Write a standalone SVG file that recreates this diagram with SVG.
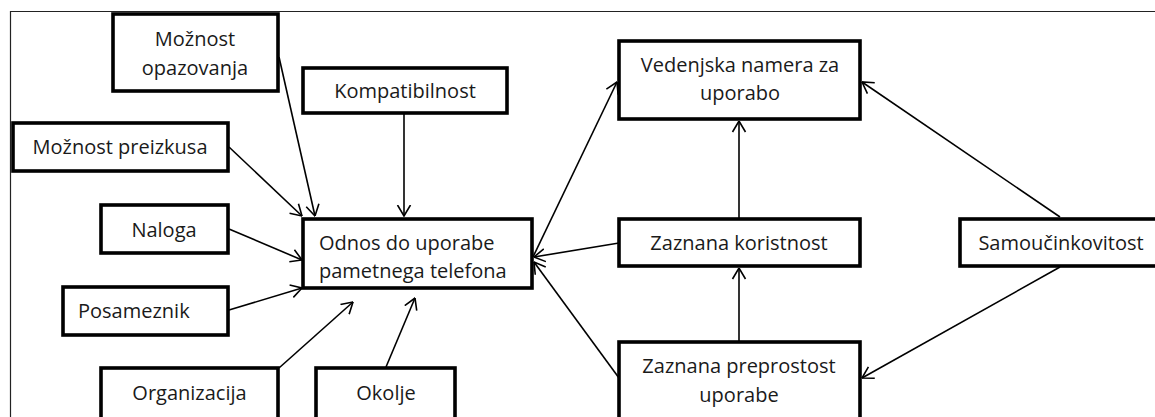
<svg xmlns="http://www.w3.org/2000/svg" width="1155" height="417" viewBox="0 0 1155 417">
<style>
.box{fill:#fff;stroke:#000;stroke-width:3.6}
.t{font-family:"Open Sans","Noto Sans","Liberation Sans",sans-serif;font-size:20px;fill:#1a1a1a}
.c{text-anchor:middle}
.ln{stroke:#000;stroke-width:1.6;fill:none;marker-end:url(#ah)}
</style>
<defs>
<marker id="ah" viewBox="0 0 12 16" refX="11.5" refY="8" markerWidth="12" markerHeight="16" markerUnits="userSpaceOnUse" orient="auto">
<path d="M0.5,1.5 L11.5,8 L0.5,14.5" fill="none" stroke="#000" stroke-width="1.6"/>
</marker>
</defs>
<rect width="1155" height="417" fill="#fff"/>
<path d="M10.5,430 V11.5 H1160" fill="none" stroke="#222" stroke-width="1.2"/>
<g id="connectors">
<line class="ln" x1="279" y1="57" x2="315" y2="216"/>
<line class="ln" x1="404" y1="113" x2="404" y2="216"/>
<line class="ln" x1="229" y1="147" x2="302" y2="216"/>
<line class="ln" x1="229" y1="229" x2="302" y2="260"/>
<line class="ln" x1="229" y1="310" x2="302" y2="288"/>
<line class="ln" x1="279" y1="368" x2="353" y2="302"/>
<line class="ln" x1="386" y1="367" x2="415" y2="298"/>
<line class="ln" x1="619" y1="243" x2="534" y2="257"/>
<line class="ln" x1="619" y1="378" x2="534" y2="262"/>
<line class="ln" x1="533" y1="257" x2="617" y2="82"/>
<line class="ln" x1="739" y1="219" x2="739" y2="121"/>
<line class="ln" x1="739" y1="342" x2="739" y2="268"/>
<line class="ln" x1="1060" y1="217" x2="862" y2="82"/>
<line class="ln" x1="1060" y1="267" x2="862" y2="378"/>
</g>
<g id="moznost-opazovanja"><rect class="box" x="113" y="14" width="165" height="77"/><text class="t c" x="195" y="46">Možnost</text><text class="t c" x="195" y="75">opazovanja</text></g>
<g id="kompatibilnost"><rect class="box" x="303" y="68" width="204" height="45"/><text class="t c" x="405" y="98">Kompatibilnost</text></g>
<g id="moznost-preizkusa"><rect class="box" x="13" y="123" width="215" height="48"/><text class="t c" x="120" y="154">Možnost preizkusa</text></g>
<g id="naloga"><rect class="box" x="101" y="205" width="127" height="48"/><text class="t c" x="164" y="237">Naloga</text></g>
<g id="posameznik"><rect class="box" x="63" y="287" width="165" height="48"/><text class="t" x="78" y="318">Posameznik</text></g>
<g id="organizacija"><rect class="box" x="101" y="368" width="177" height="60"/><text class="t c" x="189.5" y="400">Organizacija</text></g>
<g id="okolje"><rect class="box" x="316" y="368" width="139" height="60"/><text class="t c" x="386" y="400">Okolje</text></g>
<g id="odnos"><rect class="box" x="303" y="219" width="229" height="69"/><text class="t" x="319" y="250">Odnos do uporabe</text><text class="t" x="319" y="278">pametnega telefona</text></g>
<g id="vedenjska-namera"><rect class="box" x="619" y="41" width="241" height="78"/><text class="t c" x="740" y="72">Vedenjska namera za</text><text class="t c" x="740" y="100">uporabo</text></g>
<g id="zaznana-koristnost"><rect class="box" x="619" y="219" width="241" height="47"/><text class="t c" x="739" y="250">Zaznana koristnost</text></g>
<g id="zaznana-preprostost"><rect class="box" x="619" y="342" width="241" height="90"/><text class="t c" x="739" y="373">Zaznana preprostost</text><text class="t c" x="739" y="402">uporabe</text></g>
<g id="samoucinkovitost"><rect class="box" x="960" y="219" width="210" height="47"/><text class="t c" x="1061" y="250">Samoučinkovitost</text></g>
</svg>
